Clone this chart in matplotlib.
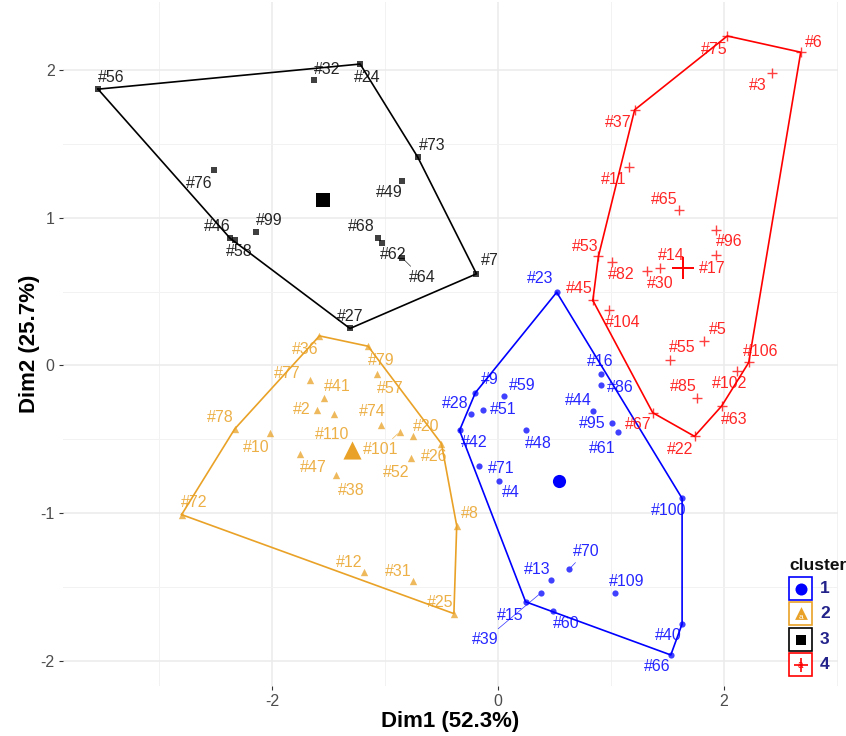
import matplotlib
matplotlib.use('Agg')
import matplotlib.pyplot as plt
from matplotlib.patches import Rectangle
import numpy as np

plt.rcParams['font.family'] = ['Liberation Sans', 'DejaVu Sans']
plt.rcParams['axes.unicode_minus'] = False

# cluster 1 (blue, dots)
c1_names = ['#23', '#16', '#86', '#9', '#59', '#51', '#28', '#44', '#95', '#61', '#42', '#48',
            '#71', '#4', '#100', '#70', '#13', '#39', '#109', '#15', '#60', '#40', '#66']
c1_x = [0.52, 0.91, 0.91, -0.20, 0.05, -0.13, -0.24, 0.84, 1.01, 1.06, -0.34, 0.245,
        -0.165, 0.01, 1.63, 0.63, 0.47, 0.38, 1.04, 0.245, 0.49, 1.63, 1.53]
c1_y = [0.495, -0.06, -0.13, -0.185, -0.21, -0.30, -0.33, -0.31, -0.39, -0.45, -0.44, -0.44,
        -0.68, -0.78, -0.90, -1.38, -1.45, -1.54, -1.54, -1.60, -1.66, -1.75, -1.96]
c1_center = (0.54, -0.78)

# cluster 2 (orange, triangles)
c2_names = ['#36', '#79', '#77', '#57', '#41', '#2', '#110', '#74', '#101', '#20', '#26', '#52',
            '#78', '#10', '#47', '#38', '#72', '#8', '#12', '#31', '#25']
c2_x = [-1.58, -1.15, -1.66, -1.07, -1.54, -1.60, -1.45, -1.035, -0.87, -0.75, -0.50, -0.77,
        -2.33, -2.02, -1.75, -1.43, -2.80, -0.365, -1.19, -0.755, -0.39]
c2_y = [0.20, 0.13, -0.10, -0.06, -0.22, -0.30, -0.33, -0.40, -0.45, -0.48, -0.53, -0.63,
        -0.43, -0.46, -0.60, -0.74, -1.01, -1.085, -1.40, -1.46, -1.68]
c2_center = (-1.29, -0.57)

# cluster 3 (black, squares)
c3_names = ['#56', '#32', '#24', '#73', '#76', '#49', '#46', '#58', '#99', '#68', '#62', '#64',
            '#7', '#27']
c3_x = [-3.54, -1.63, -1.22, -0.71, -2.51, -0.85, -2.37, -2.33, -2.14, -1.06, -1.03, -0.85,
        -0.19, -1.31]
c3_y = [1.87, 1.93, 2.04, 1.41, 1.32, 1.25, 0.86, 0.85, 0.90, 0.86, 0.83, 0.73, 0.62, 0.25]
c3_center = (-1.55, 1.12)

# cluster 4 (red, plus)
c4_names = ['#75', '#6', '#3', '#37', '#11', '#65', '#96', '#53', '#82', '#17', '#14', '#30',
            '#45', '#104', '#5', '#55', '#106', '#102', '#85', '#67', '#63', '#22']
c4_x = [2.03, 2.68, 2.43, 1.21, 1.16, 1.60, 1.93, 0.89, 1.01, 1.93, 1.43, 1.32,
        0.84, 0.98, 1.82, 1.52, 2.22, 2.12, 1.76, 1.37, 1.98, 1.74]
c4_y = [2.23, 2.12, 1.98, 1.73, 1.34, 1.05, 0.92, 0.74, 0.70, 0.75, 0.66, 0.64,
        0.44, 0.375, 0.165, 0.04, 0.02, -0.04, -0.22, -0.32, -0.275, -0.48]
c4_center = (1.64, 0.66)

cluster_labels = ['1', '2', '3', '4']
colors = ['#0000FF', '#E9A227', '#000000', '#FF0000']

# label offsets in pixels (dx right, dy down), and which labels get a leader segment
label_off = {
    '#23': (-17, -14), '#16': (-1, -13), '#86': (20, 3), '#9': (14, -13), '#59': (19, -11),
    '#51': (20, 0), '#28': (-16, -11), '#44': (-14, -11), '#95': (-20, 0), '#61': (-15, 17),
    '#42': (15, 12), '#48': (13, 13), '#71': (22, 3), '#4': (12, 12), '#100': (-13, 12),
    '#70': (17, -18), '#13': (-14, -10), '#39': (-56, 47), '#109': (11, -11), '#15': (-15, 14),
    '#60': (13, 13), '#40': (-14, 12), '#66': (-14, 12),
    '#36': (-14, 14), '#79': (13, 14), '#77': (-23, -7), '#57': (13, 14), '#41': (13, -11),
    '#2': (-15, 0), '#74': (-9, -13), '#110': (-2, 20), '#20': (13, -10), '#101': (-19, 18),
    '#26': (-7, 13), '#52': (-15, 14), '#78': (-14, -11), '#10': (-14, 14), '#47': (13, 13),
    '#38': (15, 16), '#72': (13, -12), '#8': (13, -12), '#12': (-14, -10), '#31': (-14, -10),
    '#25': (-14, -11),
    '#56': (13, -12), '#32': (13, -11), '#24': (7, 13), '#73': (14, -12), '#76': (-15, 13),
    '#49': (-13, 12), '#46': (-13, -12), '#58': (5, 12), '#99': (13, -12), '#68': (-17, -12),
    '#62': (12, 12), '#64': (20, 20), '#7': (13, -13), '#27': (0, -12),
    '#75': (-13, 14), '#6': (13, -10), '#3': (-15, 13), '#37': (-16, 13), '#11': (-15, 12),
    '#65': (-14, -11), '#96': (13, 12), '#53': (-13, -10), '#82': (9, 12), '#17': (-4, 14),
    '#14': (12, -12), '#30': (13, 13), '#45': (-14, -12), '#104': (14, 12), '#5': (14, -12),
    '#55': (13, -12), '#106': (12, -11), '#102': (-8, 12), '#85': (-13, -11), '#67': (-14, 12),
    '#63': (13, 13), '#22': (-14, 13),
}
with_segment = {'#64', '#101', '#70', '#39'}


def convex_hull(px, py):
    pts = sorted(set(zip(px, py)))
    def cross(o, a, b):
        return (a[0] - o[0]) * (b[1] - o[1]) - (a[1] - o[1]) * (b[0] - o[0])
    lower, upper = [], []
    for p in pts:
        while len(lower) >= 2 and cross(lower[-2], lower[-1], p) <= 0:
            lower.pop()
        lower.append(p)
    for p in reversed(pts):
        while len(upper) >= 2 and cross(upper[-2], upper[-1], p) <= 0:
            upper.pop()
        upper.append(p)
    hull = lower[:-1] + upper[:-1]
    hull.append(hull[0])
    return [h[0] for h in hull], [h[1] for h in hull]


W, H = 846, 736
fig = plt.figure(figsize=(W / 100, H / 100), dpi=100)
L, R, T, B = 63, 838, 2, 686
ax = fig.add_axes([L / W, (H - B) / H, (R - L) / W, (B - T) / H])

ax.set_xlim(-3.85, 3.01)
ax.set_ylim(-2.17, 2.46)
ax.set_xticks([-2, 0, 2])
ax.set_yticks([-2, -1, 0, 1, 2])
ax.set_xticks([-3, -1, 1, 3], minor=True)
ax.set_yticks([-1.5, -0.5, 0.5, 1.5], minor=True)
ax.grid(which='major', color='#EBEBEB', lw=1.1, zorder=0)
ax.grid(which='minor', color='#F2F2F2', lw=0.7, zorder=0)
ax.set_axisbelow(True)
for s in ax.spines.values():
    s.set_visible(False)
ax.tick_params(which='major', length=3, width=0.8, color='#333333', labelcolor='#4D4D4D',
               labelsize=11.5, pad=3)
ax.tick_params(which='minor', length=0)
ax.set_xlabel('Dim1 (52.3%)', fontsize=16, fontweight='bold', labelpad=1)
ax.set_ylabel('Dim2 (25.7%)', fontsize=16, fontweight='bold', labelpad=0)

clusters = [
    (c1_names, c1_x, c1_y, c1_center, 'o', 20, 90),
    (c2_names, c2_x, c2_y, c2_center, '^', 28, 170),
    (c3_names, c3_x, c3_y, c3_center, 's', 16, 110),
    (c4_names, c4_x, c4_y, c4_center, '+', 55, 260),
]

for k, (names, xs, ys, cen, mk, sz, csz) in enumerate(clusters):
    col = colors[k]
    hx, hy = convex_hull(xs, ys)
    ax.plot(hx, hy, color=col, lw=1.2, zorder=2)
    lw = 1.0 if mk == '+' else 0
    ax.scatter(xs, ys, marker=mk, s=sz, color=col, alpha=0.75, linewidths=lw, zorder=3)
    ax.scatter([cen[0]], [cen[1]], marker=mk, s=csz, color=col,
               linewidths=(1.4 if mk == '+' else 0), zorder=4)
    for n, x, y in zip(names, xs, ys):
        dx, dy = label_off[n]
        if n in with_segment:
            ax.annotate(n, (x, y), xytext=(dx, -dy), textcoords='offset pixels',
                        ha='center', va='center', fontsize=11.5, color=col, alpha=0.85,
                        arrowprops=dict(arrowstyle='-', color=col, lw=0.5, alpha=0.8,
                                        shrinkA=1, shrinkB=2), zorder=5)
        else:
            ax.annotate(n, (x, y), xytext=(dx, -dy), textcoords='offset pixels',
                        ha='center', va='center', fontsize=11.5, color=col, alpha=0.85,
                        zorder=5)

# legend drawn in pixel space
lax = fig.add_axes([0, 0, 1, 1], zorder=10)
lax.set_xlim(0, W)
lax.set_ylim(H, 0)
lax.axis('off')
lax.text(789, 566, 'cluster', fontsize=12.5, fontweight='bold', color='#111111',
         ha='left', va='center')
key_top = [577, 602, 628, 653]
for k, top in enumerate(key_top):
    col = colors[k]
    lax.add_patch(Rectangle((789, top), 23, 23, facecolor='white', edgecolor=col, lw=1.2))
    cx, cy = 800.5, top + 11.5
    mk = clusters[k][4]
    if mk == '+':
        lax.scatter([cx], [cy], marker='+', s=110, color=col, linewidths=1.2)
        lax.text(cx, cy + 1, 'a', fontsize=7, color=col, ha='center', va='center')
    elif mk == '^':
        lax.scatter([cx], [cy - 1], marker='^', s=85, color=col, linewidths=0)
        lax.text(cx, cy + 4, 'a', fontsize=6, color='white', ha='center', va='center')
    else:
        lax.scatter([cx], [cy], marker=mk, s=75 if mk == 'o' else 60, color=col, linewidths=0)
    lax.text(820, cy, cluster_labels[k], fontsize=12.5, fontweight='bold', color='#22228A',
             ha='left', va='center')

fig.savefig('out.png', dpi=100)
